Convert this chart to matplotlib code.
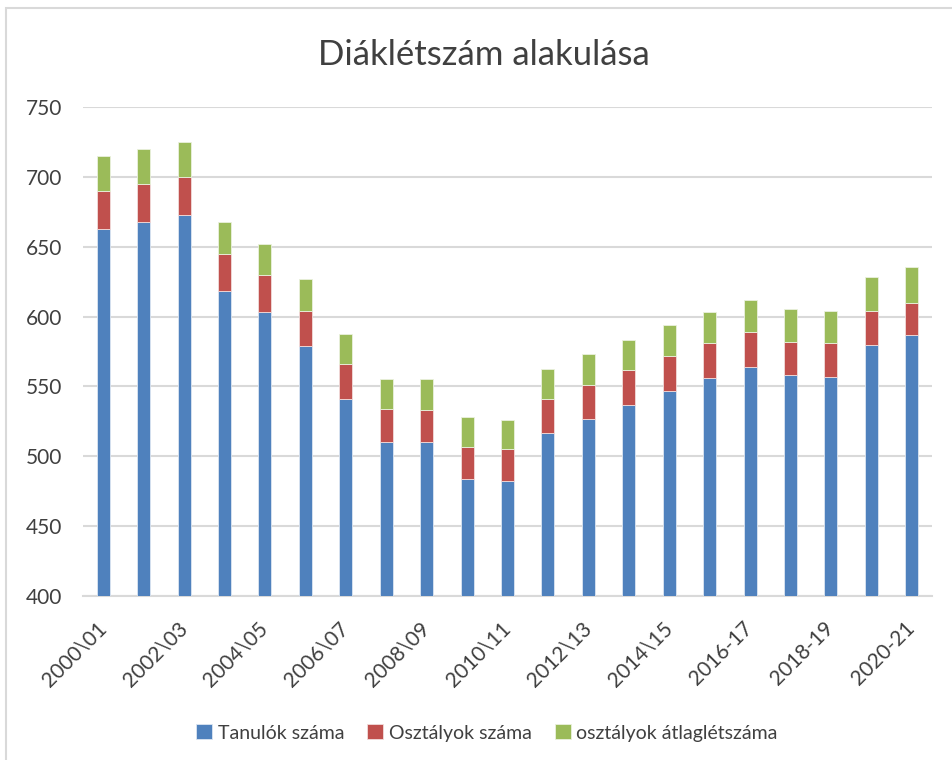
import numpy as np
import matplotlib
matplotlib.use('Agg')
import matplotlib.pyplot as plt
from matplotlib.patches import Rectangle

# school years (only every other one is labelled on the axis)
years = ['2000\\01', '2001\\02', '2002\\03', '2003\\04', '2004\\05', '2005\\06',
         '2006\\07', '2007\\08', '2008\\09', '2009\\10', '2010\\11', '2011\\12',
         '2012\\13', '2013\\14', '2014\\15', '2015\\16', '2016-17', '2017-18',
         '2018-19', '2019-20', '2020-21']
# number of students
tanulok = [663, 668, 673, 618, 603, 579, 541, 510, 510, 484, 482,
           517, 527, 537, 547, 556, 564, 558, 557, 580, 587]
# number of classes
osztalyok = [27, 27, 27, 27, 27, 25, 25, 24, 23, 23, 23,
             24, 24, 25, 25, 25, 25, 24, 24, 24, 23]
# average class size
atlag = [24.6, 24.7, 24.9, 22.9, 22.3, 23.2, 21.6, 21.3, 22.2, 21.0, 21.0,
         21.5, 22.0, 21.5, 21.9, 22.2, 22.6, 23.3, 23.2, 24.2, 25.5]

blue = '#4F81BD'
red = '#C0504D'
green = '#9BBB59'
txt = '#404040'
grid = '#D9D9D9'

plt.rcParams['font.family'] = ['Lato', 'DejaVu Sans']

fig = plt.figure(figsize=(9.53, 7.6), dpi=100)
ax = fig.add_axes([83/953, 1-596/760, 849/953, 489/760])

x = np.arange(len(years))
t = np.array(tanulok, dtype=float)
o = np.array(osztalyok, dtype=float)
a = np.array(atlag, dtype=float)
w = 0.32
ax.bar(x, t, w, color=blue, edgecolor='#DCE6F2', linewidth=0.6, label='Tanulók száma', zorder=3)
ax.bar(x, o, w, bottom=t, color=red, edgecolor='#F2DCDB', linewidth=0.6, label='Osztályok száma', zorder=3)
ax.bar(x, a, w, bottom=t+o, color=green, edgecolor='#EBF1DE', linewidth=0.6, label='osztályok átlaglétszáma', zorder=3)

ax.set_ylim(400, 750)
ax.set_xlim(-0.5, len(years)-0.5)
ax.set_yticks(np.arange(400, 751, 50))
ax.set_xticks(x[::2])
ax.set_xticklabels(years[::2], rotation=45, ha='right', va='center', rotation_mode='anchor')
ax.tick_params(axis='y', length=0, pad=15, labelsize=15, labelcolor=txt)
ax.tick_params(axis='x', length=0, pad=21, labelsize=15, labelcolor=txt)
ax.yaxis.grid(True, color=grid, linewidth=1.5, zorder=0)
for s in ['top', 'right', 'left']:
    ax.spines[s].set_visible(False)
ax.spines['bottom'].set_color(grid)
ax.spines['bottom'].set_linewidth(1.5)

fig.text(484/953, 1-55/760, 'Diáklétszám alakulása', ha='center', va='center', fontsize=25, color=txt)

h, l = ax.get_legend_handles_labels()
fig.legend(h, l, loc='center', bbox_to_anchor=(487/953, 1-733/760), ncol=3, frameon=False,
           fontsize=14, labelcolor=txt, handlelength=0.8, handleheight=0.8,
           handletextpad=0.3, columnspacing=1.2)

# outer chart border
fig.add_artist(Rectangle((6/953, -0.1), 1.2, 1-8/760+0.1, transform=fig.transFigure,
                         fill=False, edgecolor=grid, linewidth=1.5))

plt.savefig('out.png', dpi=100)
